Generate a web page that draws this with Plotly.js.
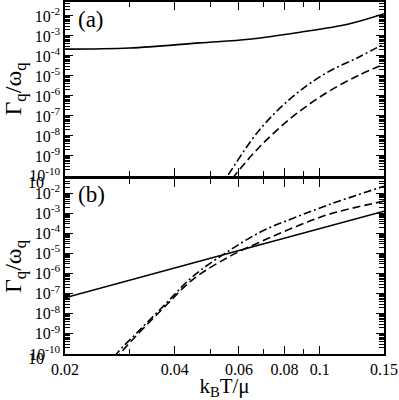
<!DOCTYPE html>
<html>
<head>
<meta charset="utf-8">
<script src="https://cdn.plot.ly/plotly-3.0.1.min.js"></script>
<style>
  html, body { margin: 0; padding: 0; background: #fff; }
  #chart { width: 399px; height: 400px; }
</style>
</head>
<body>
<div id="chart"></div>
<script>
// panel (a)
const aSolidT = [0.02, 0.0301, 0.0468, 0.064, 0.0876, 0.12, 0.15];
const aSolidG = [2.2e-4, 2.5e-4, 4.5e-4, 6.8e-4, 1.5e-3, 4.0e-3, 1.3e-2];
const aDashDotT = [0.053, 0.0558, 0.0683, 0.0841, 0.1041, 0.1281, 0.15];
const aDashDotG = [2.5e-11, 1e-10, 2.0e-8, 8.9e-7, 1.4e-5, 8.9e-5, 4.0e-4];
const aDashT = [0.055, 0.0583, 0.0683, 0.0841, 0.1041, 0.1281, 0.15];
const aDashG = [2.5e-11, 1e-10, 2.8e-9, 8.9e-8, 1.4e-6, 1.1e-5, 3.8e-5];

// panel (b)
const bSolidT = [0.02, 0.06, 0.15];
const bSolidG = [6.3e-8, 1.4e-5, 1.26e-3];
const bDashDotT = [0.026, 0.0277, 0.0317, 0.038, 0.0448, 0.0565, 0.0696, 0.0862, 0.1061, 0.15];
const bDashDotG = [1.5e-11, 1e-10, 1.26e-9, 3.5e-8, 7.1e-7, 1.4e-5, 1.3e-4, 6.5e-4, 2.7e-3, 2.2e-2];
const bDashT = [0.0265, 0.0283, 0.038, 0.0448, 0.0565, 0.0696, 0.0862, 0.1061, 0.15];
const bDashG = [1.5e-11, 1e-10, 2.8e-8, 5e-7, 7e-6, 4.2e-5, 2.2e-4, 8.9e-4, 4e-3];

// ticks
const xTickVals = [0.02, 0.04, 0.06, 0.08, 0.1, 0.15];
const xTickText = ['0.02', '0.04', '0.06', '0.08', '0.1', '0.15'];
const xMinorVals = [0.03, 0.05, 0.07, 0.09];
const yExps = [-10, -9, -8, -7, -6, -5, -4, -3, -2];

const yTickVals = yExps.map(e => Math.pow(10, e));
const yTickText = yExps.map(e => '10<sup>' + e + '</sup>');
const yMinorVals = [];
for (let e = -11; e <= -2; e++) {
    for (let m = 2; m <= 9; m++) yMinorVals.push(m * Math.pow(10, e));
}

const font = '"Liberation Serif", "Times New Roman", "DejaVu Serif", Times, serif';

function line(x, y, dash, xa, ya) {
    return {
        x: x, y: y, xaxis: xa, yaxis: ya,
        type: 'scatter', mode: 'lines',
        line: { color: '#000', width: 1.6, dash: dash, shape: 'spline', smoothing: 1 },
        hoverinfo: 'skip', showlegend: false
    };
}

const data = [
    line(aSolidT, aSolidG, 'solid', 'x2', 'y2'),
    line(aDashDotT, aDashDotG, '8px,3px,2px,3px', 'x2', 'y2'),
    line(aDashT, aDashG, '8px,4px', 'x2', 'y2'),
    line(bSolidT, bSolidG, 'solid', 'x', 'y'),
    line(bDashDotT, bDashDotG, '8px,3px,2px,3px', 'x', 'y'),
    line(bDashT, bDashG, '8px,4px', 'x', 'y')
];

const xRange = [Math.log10(0.02), Math.log10(0.15)];
const yRange = [-10, Math.log10(0.05)];

function xAxis(anchor, labels) {
    return {
        type: 'log', range: xRange, anchor: anchor,
        tickmode: 'array', tickvals: xTickVals, ticktext: xTickText,
        showticklabels: labels,
        ticks: 'inside', ticklen: 8, tickwidth: 1, tickcolor: '#000',
        minor: { tickmode: 'array', tickvals: xMinorVals, ticks: 'inside', ticklen: 5, tickwidth: 1, tickcolor: '#000' },
        showline: true, linecolor: '#000', linewidth: 1.6, mirror: 'allticks',
        showgrid: false, zeroline: false,
        tickfont: { family: font, size: 16, color: '#000' }
    };
}

function yAxis(domain, anchor) {
    return {
        type: 'log', range: yRange, domain: domain, anchor: anchor,
        tickmode: 'array', tickvals: yTickVals, ticktext: yTickText,
        ticks: 'inside', ticklen: 8, tickwidth: 1, tickcolor: '#000',
        minor: { tickmode: 'array', tickvals: yMinorVals, ticks: 'inside', ticklen: 5, tickwidth: 1, tickcolor: '#000' },
        showline: true, linecolor: '#000', linewidth: 1.6, mirror: 'allticks',
        showgrid: false, zeroline: false,
        tickfont: { family: font, size: 16, color: '#000' },
        title: { text: 'Γ<sub>q</sub>/ω<sub>q</sub>', font: { family: font, size: 24, color: '#000' }, standoff: 3 }
    };
}

const layout = {
    width: 399, height: 400,
    margin: { l: 65, r: 15, t: 2, b: 46 },
    font: { family: font, color: '#000' },
    paper_bgcolor: '#fff', plot_bgcolor: '#fff',
    xaxis: Object.assign(xAxis('y', true), {
        title: { text: 'k<sub>B</sub>T/μ', font: { family: font, size: 21, color: '#000' }, standoff: 6 }
    }),
    xaxis2: Object.assign(xAxis('y2', false), { matches: 'x' }),
    yaxis: yAxis([0, 0.497], 'x'),
    yaxis2: yAxis([0.506, 1], 'x2'),
    annotations: [
        { text: '(a)', xref: 'paper', yref: 'paper', x: 0.035, y: 0.95, xanchor: 'left', yanchor: 'middle',
          showarrow: false, font: { family: font, size: 23, color: '#000' } },
        { text: '(b)', xref: 'paper', yref: 'paper', x: 0.035, y: 0.452, xanchor: 'left', yanchor: 'middle',
          showarrow: false, font: { family: font, size: 23, color: '#000' } },
        { text: '10', xref: 'paper', yref: 'paper', x: -0.06, y: 0.486, xanchor: 'right', yanchor: 'middle',
          showarrow: false, font: { family: font, size: 16, color: '#000' } },
        { text: '10', xref: 'paper', yref: 'paper', x: -0.06, y: -0.012, xanchor: 'right', yanchor: 'middle',
          showarrow: false, font: { family: font, size: 16, color: '#000' } }
    ]
};

Plotly.newPlot('chart', data, layout, { displayModeBar: false, staticPlot: true });
</script>
</body>
</html>
